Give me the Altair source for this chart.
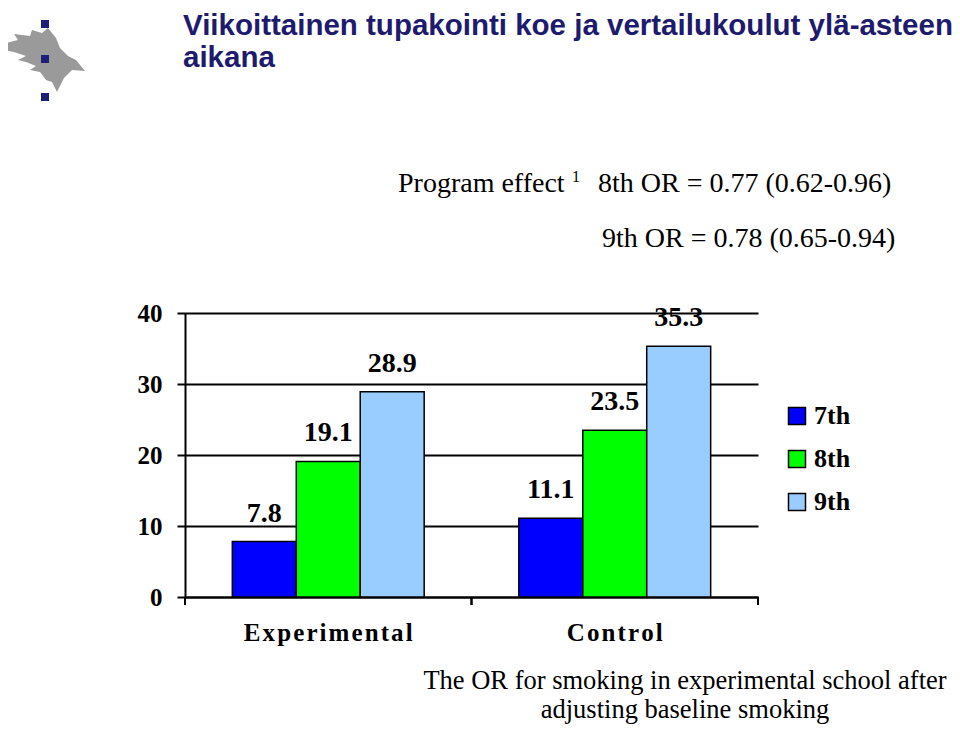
import altair as alt
import pandas as pd

# ---- data ----
groups = ["Experimental", "Control"]
grades = ["7th", "8th", "9th"]
values_experimental = [7.8, 19.1, 28.9]
values_control = [11.1, 23.5, 35.3]
colors = ["#0000FF", "#00FF00", "#99CCFF"]

title_lines = ["Viikoittainen tupakointi koe ja vertailukoulut ylä-asteen", "aikana"]
effect_label = "Program effect"
effect_sup = "1"
or_lines = ["8th OR = 0.77 (0.62-0.96)", "9th OR = 0.78 (0.65-0.94)"]
note_lines = ["The OR for smoking in experimental school after", "adjusting baseline smoking"]

rows = []
for g, vals in zip(groups, [values_experimental, values_control]):
    for gr, v in zip(grades, vals):
        rows.append({"group": g, "grade": gr, "value": v})
df = pd.DataFrame(rows)
grp_df = pd.DataFrame({"group": groups})

SERIF = "Liberation Serif"
NAVY = "#1E1B6E"

x_enc = alt.X("group:N", sort=groups,
              scale=alt.Scale(paddingInner=0, paddingOuter=0),
              axis=alt.Axis(title=None, ticks=False, tickSize=0, domain=True,
                            domainColor="black", domainWidth=2,
                            labelFont=SERIF, labelFontSize=25, labelFontWeight="bold",
                            labelColor="black", labelPadding=23, labelBaseline="top",
                            labelAngle=0, grid=False,
                            labelExpr="join(split(datum.label, ''), '\u200a')"))
xoff_enc = alt.XOffset("grade:N", sort=grades,
                       scale=alt.Scale(paddingInner=0, paddingOuter=0.74))
y_enc = alt.Y("value:Q",
              scale=alt.Scale(domain=[0, 40], nice=False),
              axis=alt.Axis(title=None, values=[0, 10, 20, 30, 40], grid=True,
                            gridColor="black", gridWidth=2, gridOpacity=1,
                            domain=True, domainColor="black", domainWidth=2,
                            ticks=True, tickSize=8, tickColor="black", tickWidth=2,
                            labelFont=SERIF, labelFontSize=25, labelFontWeight="bold",
                            labelColor="black", labelPadding=15))

bars = alt.Chart(df).mark_bar(stroke="black", strokeWidth=1.5).encode(
    x=x_enc,
    xOffset=xoff_enc,
    y=y_enc,
    color=alt.Color("grade:N", sort=grades,
                    scale=alt.Scale(domain=grades, range=colors),
                    legend=alt.Legend(title=None, orient="none", legendX=599, legendY=90,
                                      symbolType="square", symbolSize=289,
                                      symbolStrokeColor="black", symbolStrokeWidth=1.5,
                                      labelFont=SERIF, labelFontSize=26,
                                      labelFontWeight="bold", labelColor="black",
                                      labelOffset=4, rowPadding=17, padding=0)),
)

labels = alt.Chart(df).mark_text(font=SERIF, fontSize=28, fontWeight="bold",
                                 baseline="alphabetic", dy=-20, color="black").encode(
    x=alt.X("group:N", sort=groups),
    xOffset=alt.XOffset("grade:N", sort=grades),
    y=alt.Y("value:Q"),
    text=alt.Text("value:Q", format=".1f"),
)

ticks_start = alt.Chart(grp_df).mark_rule(color="black", strokeWidth=2).encode(
    x=alt.X("group:N", sort=groups, bandPosition=0),
    y=alt.value(284), y2=alt.value(292),
)
ticks_end = alt.Chart(grp_df).mark_rule(color="black", strokeWidth=2).encode(
    x=alt.X("group:N", sort=groups, bandPosition=1),
    y=alt.value(284), y2=alt.value(292),
)


def text_layer(t, x, y, size, weight="normal", font=SERIF, color="black", align="left"):
    return alt.Chart(pd.DataFrame({"t": [t]})).mark_text(
        font=font, fontSize=size, fontWeight=weight, color=color,
        align=align, baseline="alphabetic").encode(
        x=alt.value(x), y=alt.value(y), text="t:N")


TITLE_FONT = "Liberation Sans Narrow, Liberation Sans"
title1 = text_layer(title_lines[0], -2, -278, 29.5, "bold", TITLE_FONT, NAVY)
title2 = text_layer(title_lines[1], -2, -246, 29.5, "bold", TITLE_FONT, NAVY)

eff = text_layer(effect_label, 213, -121, 28)
sup = text_layer(effect_sup, 387, -131, 16)
or1 = text_layer(or_lines[0], 413, -121, 28)
or2 = text_layer(or_lines[1], 417, -66, 28)
note1 = text_layer(note_lines[0], 500, 376, 26.5, align="center")
note2 = text_layer(note_lines[1], 500, 405, 26.5, align="center")

# logo: grey flame + navy squares
flame_path = ("M -0.988 -0.381 L -0.607 -0.476 L -0.702 -0.619 L -0.321 -0.571 "
              "L -0.274 -0.714 L -0.036 -0.643 L 0.107 -0.762 L 0.298 -0.524 "
              "L 0.393 -0.286 L 0.583 -0.095 L 0.774 0 L 0.988 0.262 L 0.679 0.238 "
              "L 0.488 0.429 L 0.321 0.762 L 0.202 0.524 L 0.060 0.476 L -0.083 0.286 "
              "L -0.321 0.238 L -0.179 0.143 L -0.417 0.048 L -0.607 0 L -0.417 -0.095 "
              "L -0.702 -0.190 L -0.940 -0.238 Z")
flame = alt.Chart(pd.DataFrame({"t": ["logo"]})).mark_point(
    shape=flame_path, filled=True, color="#9A9A9A", opacity=1, size=7056).encode(
    x=alt.value(-141.5), y=alt.value(-253))


def square(x, y):
    return alt.Chart(pd.DataFrame({"t": ["sq"]})).mark_square(
        color="#1E1E78", opacity=1, size=64).encode(x=alt.value(x), y=alt.value(y))


logo = [flame, square(-140, -289), square(-140, -254), square(-140, -216)]

chart = alt.layer(
    bars, labels, ticks_start, ticks_end,
    title1, title2, eff, sup, or1, or2, note1, note2, *logo
).properties(
    width=573, height=284,
    autosize=alt.AutoSizeParams(type="none"),
    padding={"left": 177, "top": 305, "right": 194, "bottom": 130},
    background="white",
).configure_view(stroke=None)

chart.save("out.html", embed_options={"renderer": "svg", "actions": False})
